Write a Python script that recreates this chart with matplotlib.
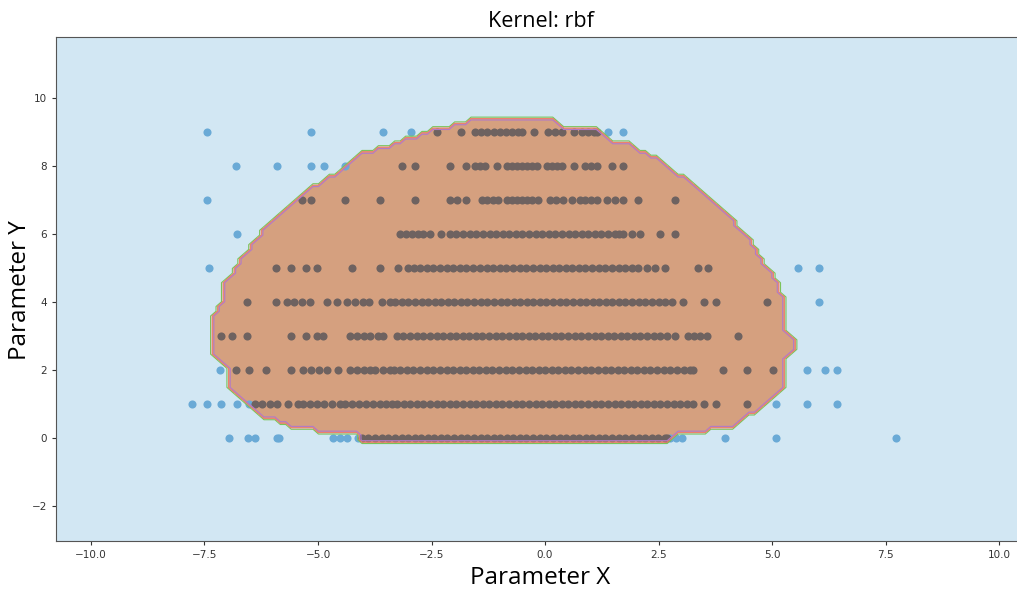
import matplotlib
matplotlib.use("Agg")
import matplotlib.pyplot as plt
from matplotlib.path import Path
import numpy as np

# class 1 points (inside the region), x values per y row
inner_0 = [-4.03, -3.89, -3.74, -3.60, -3.45, -3.31, -3.16, -3.02, -2.87, -2.73, -2.58, -2.44,
           -2.29, -2.15, -2.00, -1.86, -1.71, -1.57, -1.42, -1.28, -1.13, -0.99, -0.84, -0.70,
           -0.55, -0.41, -0.26, -0.12, 0.03, 0.17, 0.32, 0.46, 0.61, 0.75, 0.90, 1.04, 1.19,
           1.33, 1.48, 1.62, 1.77, 1.91, 2.06, 2.20, 2.35, 2.49, 2.64, 2.69]
inner_1 = [-6.39, -6.23, -6.06, -5.90, -5.66, -5.44, -5.33, -5.18, -5.02, -4.87, -4.69, -4.52,
           -4.41, -4.25, -4.10, -3.94, -3.79, -3.63, -3.50, -3.37,
           -3.26, -3.11, -2.97, -2.82, -2.68, -2.53, -2.39, -2.24, -2.10, -1.95, -1.81, -1.66,
           -1.52, -1.37, -1.23, -1.08, -0.94, -0.79, -0.65, -0.50, -0.36, -0.21, -0.07, 0.08,
           0.22, 0.37, 0.51, 0.66, 0.80, 0.95, 1.09, 1.24, 1.38, 1.53, 1.67, 1.82, 1.96, 2.11,
           2.25, 2.40, 2.54, 2.69, 2.83, 2.98, 3.12, 3.26, 3.50, 3.77, 4.45]
inner_2 = [-6.81, -6.52, -6.15, -5.59, -5.33, -5.15, -4.98, -4.80, -4.56, -4.30, -4.14, -3.99,
           -3.85, -3.74, -3.57, -3.41,
           -3.33, -3.19, -3.04, -2.90, -2.75, -2.61, -2.46, -2.32, -2.17, -2.03, -1.88, -1.74,
           -1.59, -1.45, -1.30, -1.16, -1.01, -0.87, -0.72, -0.58, -0.43, -0.29, -0.14, 0.00,
           0.15, 0.29, 0.44, 0.58, 0.73, 0.87, 1.02, 1.16, 1.31, 1.45, 1.60, 1.74, 1.89, 2.03,
           2.18, 2.32, 2.47, 2.61, 2.76, 2.90, 3.05, 3.19, 3.26, 3.92, 4.45, 5.02]
inner_3 = [-7.14, -6.89, -6.56, -5.59, -5.26, -5.02, -4.89, -4.30, -4.14, -3.99, -3.85, -3.68,
           -3.57,
           -3.26, -3.12, -2.97, -2.83, -2.68, -2.54, -2.39, -2.25, -2.10, -1.96, -1.81, -1.67,
           -1.52, -1.38, -1.23, -1.09, -0.94, -0.80, -0.65, -0.51, -0.36, -0.22, -0.07, 0.07,
           0.22, 0.36, 0.51, 0.65, 0.80, 0.94, 1.09, 1.23, 1.38, 1.52, 1.67, 1.81, 1.96, 2.10,
           2.25, 2.39, 2.54, 2.68, 2.86, 3.15, 3.28, 3.41, 3.57, 4.25]
inner_4 = [-6.56, -5.93, -5.68, -5.53, -5.35, -5.18, -4.80, -4.58, -4.36, -4.19, -4.01, -3.88,
           -3.59, -3.41,
           -3.30, -3.16, -3.01, -2.87, -2.72, -2.58, -2.43, -2.29, -2.14, -2.00, -1.85, -1.71,
           -1.56, -1.42, -1.27, -1.13, -0.98, -0.84, -0.69, -0.55, -0.40, -0.26, -0.11, 0.03,
           0.18, 0.32, 0.47, 0.61, 0.76, 0.90, 1.05, 1.19, 1.34, 1.48, 1.63, 1.77, 1.92, 2.06,
           2.21, 2.35, 2.50, 2.64, 2.80, 3.04, 3.50, 3.77, 4.89]
inner_5 = [-5.93, -5.59, -5.26, -5.02, -4.25, -3.63, -3.24, -3.02, -2.89, -2.75,
           -2.60, -2.46, -2.31, -2.17, -2.02, -1.88, -1.73, -1.59, -1.44,
           -1.28, -1.14, -0.99, -0.85, -0.70, -0.56, -0.41, -0.27, -0.12, 0.02, 0.17, 0.31,
           0.46, 0.60, 0.75, 0.89, 1.04, 1.18, 1.33, 1.47, 1.62, 1.76, 1.91, 2.05,
           2.25, 2.42, 2.64, 3.37, 3.59]
inner_6 = [-3.19, -3.06, -2.93, -2.80, -2.69, -2.53, -2.29,
           -2.09, -1.95, -1.80, -1.66, -1.51, -1.37, -1.22, -1.08, -0.93, -0.79, -0.64, -0.50,
           -0.35, -0.21, -0.06, 0.08, 0.23, 0.37, 0.52, 0.66, 0.81, 0.95, 1.10, 1.24, 1.39,
           1.53, 1.63, 1.72, 1.92, 2.09, 2.53, 2.86]
inner_7 = [-5.35, -5.15, -4.41, -3.63, -2.86, -2.09, -1.94, -1.74, -1.39, -1.28, -1.15, -1.04,
           -0.84, -0.73, -0.62, -0.51, -0.40, -0.29, -0.15, 0.11, 0.24, 0.40, 0.59, 0.77,
           0.88, 1.01, 1.15, 1.37, 1.54, 1.72, 2.05, 2.86]
inner_8 = [-3.15, -2.86, -2.09, -1.74, -1.54, -1.43, -1.32, -1.06, -0.84, -0.73, -0.62, -0.51,
           -0.40, -0.29, -0.18, 0.04, 0.15, 0.26, 0.37, 0.64, 0.88, 1.01, 1.15, 1.48, 1.72]
inner_9 = [-2.38, -1.85, -1.54, -1.41, -1.28, -1.12, -0.99, -0.86, -0.73, -0.59, -0.51,
           -0.24, 0.07, 0.22, 0.37, 0.64, 0.81, 0.95, 1.08, 1.15]

# class 0 points (outside the region)
outer_0 = [-6.96, -6.54, -6.39, -5.90, -5.86, -4.67, -4.52, -4.36, -4.12,
           2.75, 2.89, 3.02, 3.96, 5.09, 7.73]
outer_1 = [-7.78, -7.44, -7.14, -6.78, -6.52, 5.09, 5.77, 6.43]
outer_2 = [-7.16, 5.77, 6.17, 6.43]
outer_3 = []
outer_4 = [6.04]
outer_5 = [-7.40, 5.57, 6.04]
outer_6 = [-6.78]
outer_7 = [-7.44]
outer_8 = [-6.81, -5.90, -5.15, -4.87, -4.41]
outer_9 = [-7.44, -5.15, -3.57, -2.95, 1.39, 1.72]

inner_rows = [inner_0, inner_1, inner_2, inner_3, inner_4,
              inner_5, inner_6, inner_7, inner_8, inner_9]
outer_rows = [outer_0, outer_1, outer_2, outer_3, outer_4,
              outer_5, outer_6, outer_7, outer_8, outer_9]

# decision boundary (x, y), going clockwise from the top
edge_x = [-1.61, 0.22, 0.40, 1.06, 1.43, 1.76, 2.20, 2.53, 3.70, 4.14, 4.58, 4.89, 5.13,
          5.24, 5.29, 5.55, 5.55, 5.33, 5.29, 5.13, 4.89, 4.45, 4.07, 3.63, 3.48, 2.82,
          2.69, -4.03, -4.14, -5.02, -5.13, -5.62, -5.68, -6.06, -6.72, -6.94, -7.05,
          -7.31, -7.33, -7.16, -7.11, -6.94, -6.50, -6.23, -5.55, -5.18, -4.74, -4.01,
          -3.57, -3.13, -2.82, -2.38, -1.81]
edge_y = [9.35, 9.35, 9.18, 9.18, 8.76, 8.71, 8.38, 8.18, 7.00, 6.41, 5.74, 5.03, 4.59,
          4.06, 3.18, 2.88, 2.68, 2.44, 1.62, 1.32, 1.03, 0.62, 0.32, 0.29, 0.15, 0.09,
          -0.15, -0.15, 0.09, 0.15, 0.29, 0.32, 0.47, 0.53, 1.12, 1.50, 2.21, 2.38,
          3.68, 3.82, 4.44, 4.79, 5.62, 6.06, 7.00, 7.38, 7.68, 8.38, 8.56, 8.76, 8.91,
          9.15, 9.21]

fig = plt.figure(figsize=(10.17, 5.90), dpi=100)
ax = fig.add_axes([56 / 1017, 49 / 590, 969 / 1017, 504 / 590])

x_lo, x_hi = -10.77, 10.57
y_lo, y_hi = -3.03, 11.8

# coarse mesh like a classifier's prediction grid
xx, yy = np.meshgrid(np.arange(x_lo - 0.1, x_hi + 0.1, 0.12),
                     np.arange(y_lo - 0.1, y_hi + 0.1, 0.14))
region = Path(np.column_stack([edge_x, edge_y]))
Z = region.contains_points(np.column_stack([xx.ravel(), yy.ravel()])).reshape(xx.shape)
Z = Z.astype(float)

ax.contourf(xx, yy, Z, levels=[-0.5, 0.5, 1.5], colors=["#d2e7f3", "#d5a07f"], zorder=0)

xs_out = np.concatenate([np.array(r, dtype=float) for r in outer_rows])
ys_out = np.concatenate([np.full(len(r), i, dtype=float) for i, r in enumerate(outer_rows)])
xs_in = np.concatenate([np.array(r, dtype=float) for r in inner_rows])
ys_in = np.concatenate([np.full(len(r), i, dtype=float) for i, r in enumerate(inner_rows)])

ax.scatter(xs_out, ys_out, s=34, color="#6aaad6", linewidths=0, zorder=2)
ax.scatter(xs_in, ys_in, s=34, color="#6e6260", linewidths=0, zorder=2)

ax.contour(xx, yy, Z, levels=[0.2, 0.5, 0.8],
           colors=["#7cc35a", "#f0806a", "#b27ac8"], linewidths=0.8, zorder=3)

ax.set_xlim(x_lo, x_hi)
ax.set_ylim(y_lo, y_hi)
ax.set_xticks([-10.0, -7.5, -5.0, -2.5, 0.0, 2.5, 5.0, 7.5, 10.0])
ax.set_yticks([-2, 0, 2, 4, 6, 8, 10])
ax.tick_params(labelsize=7.5, labelcolor="#333333", length=3, color="#333333")
for sp in ax.spines.values():
    sp.set_color("#555555")

ax.set_title("Kernel: rbf", fontsize=15.5, family="Open Sans", pad=7)
fig.text(540 / 1017, 1 - 578 / 590, "Parameter X", fontsize=17.5, family="Open Sans",
         ha="center", va="center")
fig.text(20 / 1017, 1 - 290 / 590, "Parameter Y", fontsize=17.5, family="Open Sans",
         ha="center", va="center", rotation=90)

fig.savefig("out.png", dpi=100)
